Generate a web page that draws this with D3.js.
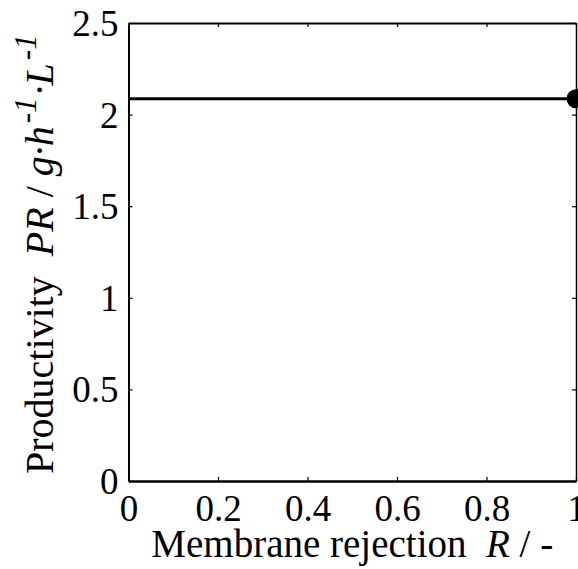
<!DOCTYPE html>
<html>
<head>
<meta charset="utf-8">
<script src="https://cdn.jsdelivr.net/npm/d3@7"></script>
<style>
  body { margin: 0; background: #fff; }
  svg { display: block; }
  text { font-family: "Liberation Serif", "Times New Roman", serif; fill: #000; }
</style>
</head>
<body>
<svg width="578" height="569"></svg>
<script>
// data
var xTicks = [0, 0.2, 0.4, 0.6, 0.8, 1];
var yTicks = [0, 0.5, 1, 1.5, 2, 2.5];
var rejection = [0, 1];
var productivity = [2.087, 2.087];
var pointX = [1];
var pointY = [2.087];

var svg = d3.select("svg"),
    width = +svg.attr("width"),
    height = +svg.attr("height");

var margin = {left: 128.5, right: 2, top: 23, bottom: 88};

var x = d3.scaleLinear().domain([0, 1]).range([margin.left, width - margin.right]);
var y = d3.scaleLinear().domain([0, 2.5]).range([height - margin.bottom, margin.top]);

// axes, ticks pointing inward
var fmt = d => d3.format("")(d);

svg.append("g")
  .attr("transform", "translate(0," + y(0) + ")")
  .call(d3.axisBottom(x).tickValues(xTicks).tickSizeInner(-4).tickSizeOuter(0).tickPadding(16).tickFormat(fmt))
  .call(g => g.select(".domain").attr("stroke-width", 2.5))
  .call(g => g.selectAll(".tick line").attr("stroke-width", 1.2))
  .call(g => g.selectAll("text").attr("font-size", "37px").attr("dy", "0.64em"));

svg.append("g")
  .attr("transform", "translate(" + x(0) + ",0)")
  .call(d3.axisLeft(y).tickValues(yTicks).tickSizeInner(-4).tickSizeOuter(0).tickPadding(10).tickFormat(fmt))
  .call(g => g.select(".domain").attr("stroke-width", 2))
  .call(g => g.selectAll(".tick line").attr("stroke-width", 1.2))
  .call(g => g.selectAll("text").attr("font-size", "37px").attr("dy", "0.34em"));

svg.append("g")
  .attr("transform", "translate(0," + y(2.5) + ")")
  .call(d3.axisTop(x).tickValues(xTicks).tickSizeInner(-4).tickSizeOuter(0).tickFormat(""))
  .call(g => g.select(".domain").attr("stroke-width", 2))
  .call(g => g.selectAll(".tick line").attr("stroke-width", 1.2));

svg.append("g")
  .attr("transform", "translate(" + x(1) + ",0)")
  .call(d3.axisRight(y).tickValues(yTicks).tickSizeInner(-4).tickSizeOuter(0).tickFormat(""))
  .call(g => g.select(".domain").attr("stroke-width", 1.5))
  .call(g => g.selectAll(".tick line").attr("stroke-width", 1.2));

// data line
var line = d3.line().x(d => x(d[0])).y(d => y(d[1]));
svg.append("path")
  .datum(d3.zip(rejection, productivity))
  .attr("fill", "none")
  .attr("stroke", "#000")
  .attr("stroke-width", 3)
  .attr("d", line);

svg.selectAll("circle.pt")
  .data(d3.zip(pointX, pointY))
  .enter()
  .append("circle")
  .attr("class", "pt")
  .attr("cx", d => x(d[0]))
  .attr("cy", d => y(d[1]))
  .attr("r", 9.5)
  .attr("fill", "#000");

// axis titles
var xl = svg.append("text")
  .attr("x", (x(0) + x(1)) / 2)
  .attr("y", 557)
  .attr("text-anchor", "middle")
  .attr("font-size", "39px");
xl.append("tspan").text("Membrane rejection\u00a0 ");
xl.append("tspan").attr("font-style", "italic").text("R");
xl.append("tspan").text(" / -");

var yl = svg.append("text")
  .attr("transform", "translate(53,474) rotate(-90)")
  .attr("text-anchor", "start")
  .attr("font-size", "40px");
yl.append("tspan").text("Productivity\u00a0 ");
yl.append("tspan").attr("font-style", "italic").text("PR");
yl.append("tspan").text(" / ");
yl.append("tspan").attr("font-style", "italic").text("g·h");
yl.append("tspan").attr("font-style", "italic").attr("font-size", "31px").attr("dx", "3").attr("dy", "-17").text("-1");
yl.append("tspan").attr("font-style", "italic").attr("dx", "2").attr("dy", "17").text("·L");
yl.append("tspan").attr("font-style", "italic").attr("font-size", "31px").attr("dx", "3").attr("dy", "-17").text("-1");
</script>
</body>
</html>
